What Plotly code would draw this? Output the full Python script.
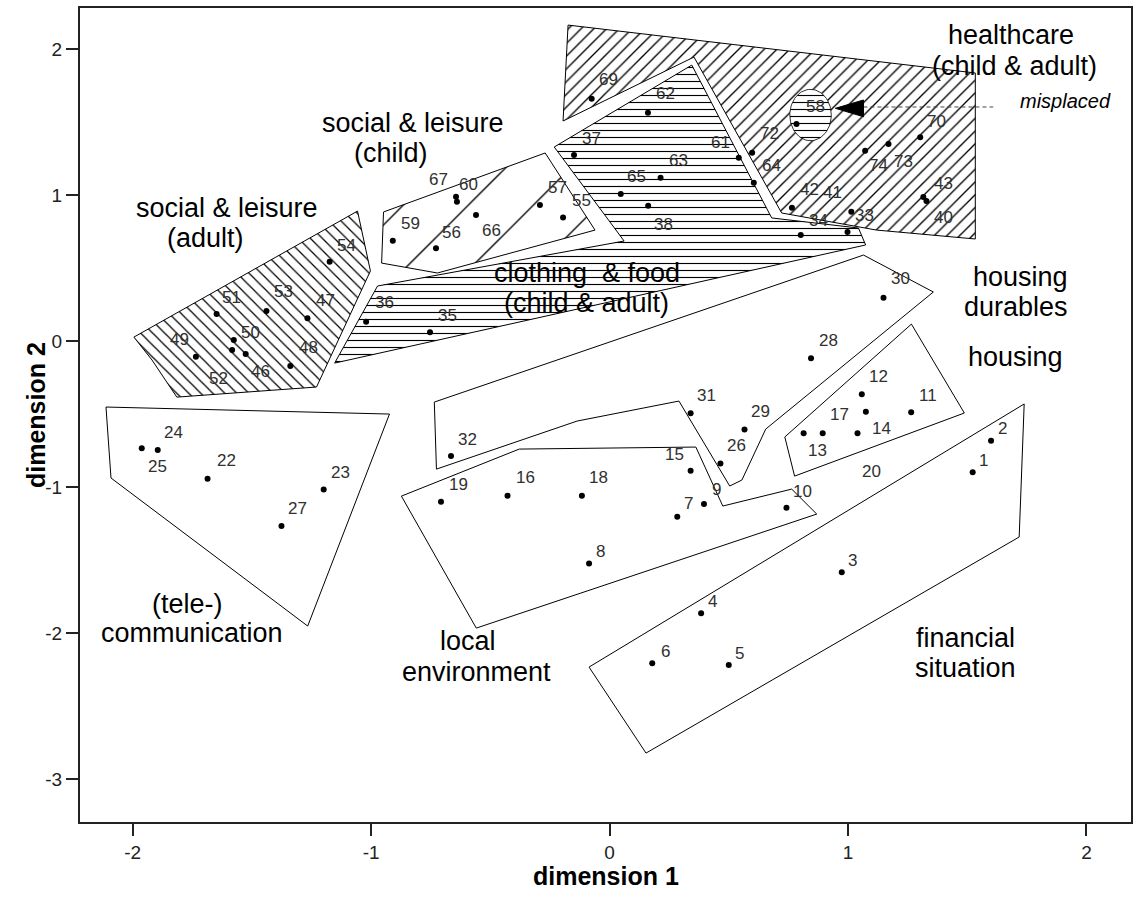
import numpy as np
import plotly.graph_objects as go

# ---- item configuration on the two MDS dimensions ----
item_id = [1, 2, 3, 4, 5, 6, 7, 8, 9, 10, 11, 12, 13, 14, 15, 16, 17, 18, 19, 20,
           22, 23, 24, 25, 26, 27, 28, 29, 30, 31, 32, 33, 34, 35, 36, 37, 38, 40,
           41, 42, 43, 46, 47, 48, 49, 50, 51, 52, 53, 54, 55, 56, 57, 58, 59, 60,
           61, 62, 63, 64, 65, 66, 67, 69, 70, 72, 73, 74]
dim1 = [1.523, 1.600, 0.974, 0.384, 0.500, 0.179, 0.284, -0.086, 0.396, 0.742,
        1.265, 1.058, 0.814, 1.040, 0.340, -0.428, 0.894, -0.116, -0.707, 1.075,
        -1.686, -1.199, -1.895, -1.962, 0.465, -1.376, 0.845, 0.566, 1.149, 0.340,
        -0.665, 0.998, 0.802, -0.753, -1.021, -0.149, 0.162, 1.329, 1.014, 0.765,
        1.316, -1.526, -1.267, -1.339, -1.735, -1.576, -1.648, -1.583, -1.439, -1.174,
        -0.195, -0.728, -0.292, 0.784, -0.909, -0.640, 0.542, 0.161, 0.214, 0.605,
        0.047, -0.560, -0.644, -0.075, 1.303, 0.598, 1.170, 1.072]
dim2 = [-0.897, -0.681, -1.582, -1.863, -2.217, -2.205, -1.201, -1.521, -1.114, -1.140,
        -0.486, -0.363, -0.630, -0.630, -0.886, -1.058, -0.630, -1.058, -1.099, -0.482,
        -0.941, -1.014, -0.745, -0.733, -0.836, -1.265, -0.116, -0.603, 0.299, -0.493,
        -0.786, 0.749, 0.728, 0.062, 0.134, 1.276, 0.929, 0.961, 0.888, 0.915,
        0.988, -0.087, 0.158, -0.169, -0.105, 0.009, 0.187, -0.060, 0.208, 0.545,
        0.849, 0.637, 0.934, 1.488, 0.689, 0.956, 1.258, 1.566, 1.121, 1.086,
        1.009, 0.865, 0.990, 1.662, 1.397, 1.292, 1.351, 1.305]

# label placement relative to each point (pixels, +dy = downwards)
label_dx = [11, 11, 11, 11, 11, 13, 11, 11, 13, 16, 17, 17, 14, 24, -16, 18, 17, 17, 18, 6,
            19, 17, 16, 16, 16, 16, 17, 16, 17, 16, 16, 17, 18, 17, 18, 17, 15, 17,
            -19, 18, 20, 15, 18, 18, -16, 17, 15, -14, 17, 17, 18, 16, 18, 19, 18, 12,
            -18, 18, 18, 18, 16, 15, -18, 17, 16, 17, 15, 13]
label_dy = [-12, -12, -12, -12, -12, -12, -13, -12, -14, -16, -17, -18, 17, -5, -16, -18, -19, -18, -17, 60,
            -18, -17, -18, 18, -18, -18, -18, -18, -19, -18, -17, -16, -15, -17, -19, -17, 19, 16,
            -19, -18, -14, 17, -18, -19, -17, -8, -17, 28, -19, -16, -17, -16, -17, -18, -17, -17,
            -15, -19, -17, -17, -18, 15, -17, -19, -16, -19, 17, 15]

# ---- cluster regions (hulls drawn around item groups) ----
healthcare_x = [-0.174, 1.534, 1.534, 1.120, 0.722, 0.354, -0.195]
healthcare_y = [2.166, 1.838, 0.701, 0.762, 0.879, 1.947, 1.509]
clothing_x = [0.345, 0.680, 1.044, 1.074, -1.153, -0.973, 0.061, -0.232]
clothing_y = [1.892, 0.845, 0.776, 0.660, -0.149, 0.379, 0.687, 1.331]
leisure_child_x = [-0.948, -0.270, -0.061, -0.722, -0.956]
leisure_child_y = [0.886, 1.290, 0.762, 0.468, 0.536]
leisure_adult_x = [-1.995, -1.057, -1.003, -1.229, -1.815, -1.919]
leisure_adult_y = [0.029, 0.892, 0.482, -0.313, -0.382, -0.128]
telecom_x = [-2.112, -0.923, -1.266, -2.091]
telecom_y = [-0.450, -0.498, -1.950, -0.936]
durables_x = [-0.735, 1.065, 1.358, 0.655, 0.555, 0.504, 0.291, -0.136, -0.726]
durables_y = [-0.416, 0.591, 0.338, -0.601, -0.950, -0.991, -0.409, -0.546, -0.875]
housing_x = [1.266, 1.488, 0.776, 0.735]
housing_y = [0.118, -0.491, -0.923, -0.655]
local_x = [-0.873, -0.379, 0.362, 0.475, 0.764, 0.869, -0.559]
local_y = [-1.060, -0.738, -0.724, -1.128, -1.012, -1.183, -1.964]
financial_x = [-0.086, 1.739, 1.718, 0.153]
financial_y = [-2.231, -0.429, -1.340, -2.820]

# misplaced item marker (ellipse) and pointer
misplaced_center = (0.843, 1.550)
misplaced_radius = (0.087, 0.176)
pointer_tip = (0.947, 1.596)
pointer_base_x = 1.065
pointer_base_y = (1.653, 1.538)
pointer_line_end = 1.609
pointer_line_y = 1.605

# region captions: (text, x, y)
captions = [
    ("healthcare", 1.685, 2.098),
    ("(child & adult)", 1.697, 1.886),
    ("social & leisure", -0.823, 1.495),
    ("(child)", -0.915, 1.290),
    ("social & leisure", -1.603, 0.911),
    ("(adult)", -1.694, 0.705),
    ("clothing\u00a0 & food", -0.093, 0.470),
    ("(child & adult)", -0.098, 0.264),
    ("housing", 1.723, 0.442),
    ("durables", 1.706, 0.237),
    ("housing", 1.702, -0.110),
    ("(tele-)", -1.771, -1.799),
    ("communication", -1.753, -2.000),
    ("local", -0.594, -2.051),
    ("environment", -0.557, -2.263),
    ("financial", 1.492, -2.030),
    ("situation", 1.492, -2.240),
]

x_ticks = [-2, -1, 0, 1, 2]
x_tick_text = ["-2", "-1", "0", "1", "2"]
y_ticks = [-3, -2, -1, 0, 1, 2]
y_tick_text = ["-3", "-2", "-1", "0", "1", "2"]

FONT = "Arial, 'Liberation Sans', sans-serif"

fig = go.Figure()


def hatch(shape, size, solidity):
    return dict(shape=shape, size=size, solidity=solidity,
                fgcolor="black", bgcolor="white", fillmode="replace")


def region(xs, ys, pattern=None):
    kw = dict(x=xs + xs[:1], y=ys + ys[:1], mode="lines",
              line=dict(color="black", width=1), hoverinfo="skip", showlegend=False)
    if pattern is not None:
        kw.update(fill="toself", fillcolor="white", fillpattern=pattern)
    fig.add_trace(go.Scatter(**kw))


region(healthcare_x, healthcare_y, hatch("/", 9, 0.15))
region(clothing_x, clothing_y, hatch("-", 7, 0.16))
region(leisure_child_x, leisure_child_y, hatch("/", 46, 0.03))
region(leisure_adult_x, leisure_adult_y, hatch("\\", 8.5, 0.15))
region(telecom_x, telecom_y)
region(durables_x, durables_y)
region(housing_x, housing_y)
region(local_x, local_y)
region(financial_x, financial_y)

# ellipse around the misplaced clothing item
t = np.linspace(0, 2 * np.pi, 73)
ex = list(misplaced_center[0] + misplaced_radius[0] * np.cos(t))
ey = list(misplaced_center[1] + misplaced_radius[1] * np.sin(t))
fig.add_trace(go.Scatter(x=ex, y=ey, mode="lines", fill="toself", fillcolor="white",
                         fillpattern=hatch("-", 7, 0.16),
                         line=dict(color="black", width=0.8),
                         hoverinfo="skip", showlegend=False))

# item points
fig.add_trace(go.Scatter(x=dim1, y=dim2, mode="markers",
                         marker=dict(color="black", size=6, symbol="circle"),
                         text=[str(i) for i in item_id], hoverinfo="text",
                         showlegend=False))

annotations = []
for i, x, y, dx, dy in zip(item_id, dim1, dim2, label_dx, label_dy):
    annotations.append(dict(x=x, y=y, xref="x", yref="y", text=str(i), showarrow=False,
                            xshift=dx, yshift=-dy,
                            font=dict(family=FONT, size=17, color="#303030")))

for text, x, y in captions:
    annotations.append(dict(x=x, y=y, xref="x", yref="y", text=text, showarrow=False,
                            font=dict(family=FONT, size=27, color="black")))

annotations.append(dict(x=1.911, y=1.646, xref="x", yref="y", text="<i>misplaced</i>",
                        showarrow=False, font=dict(family=FONT, size=20, color="black")))

# axis titles
annotations.append(dict(x=0.5, y=0, xref="paper", yref="paper", text="<b>dimension 1</b>",
                        showarrow=False, yshift=-70,
                        font=dict(family=FONT, size=25, color="black")))
annotations.append(dict(x=0, y=0.5, xref="paper", yref="paper", text="<b>dimension 2</b>",
                        showarrow=False, xshift=-60, textangle=-90,
                        font=dict(family=FONT, size=25, color="black")))

shapes = [
    dict(type="line", xref="x", yref="y", x0=pointer_base_x, x1=pointer_line_end,
         y0=pointer_line_y, y1=pointer_line_y,
         line=dict(color="#444444", width=1, dash="4px,3px")),
    dict(type="path", xref="x", yref="y",
         path=f"M{pointer_tip[0]},{pointer_tip[1]} L{pointer_base_x},{pointer_base_y[0]} "
              f"L{pointer_base_x},{pointer_base_y[1]} Z",
         fillcolor="black", line=dict(color="black", width=1)),
]

axis_common = dict(showgrid=False, zeroline=False, showline=True, mirror=True,
                   linecolor="#222222", linewidth=2, ticks="outside", ticklen=12,
                   tickwidth=2, tickcolor="#222222",
                   tickfont=dict(family=FONT, size=19, color="#222222"))

fig.update_layout(
    width=1136, height=907,
    margin=dict(l=80, r=3, t=8, b=85),
    paper_bgcolor="white", plot_bgcolor="white",
    xaxis=dict(range=[-2.221, 2.187], tickvals=x_ticks, ticktext=x_tick_text, **axis_common),
    yaxis=dict(range=[-3.292, 2.283], tickvals=y_ticks, ticktext=y_tick_text, **axis_common),
    annotations=annotations,
    shapes=shapes,
    showlegend=False,
)

fig.write_html("out.html")
